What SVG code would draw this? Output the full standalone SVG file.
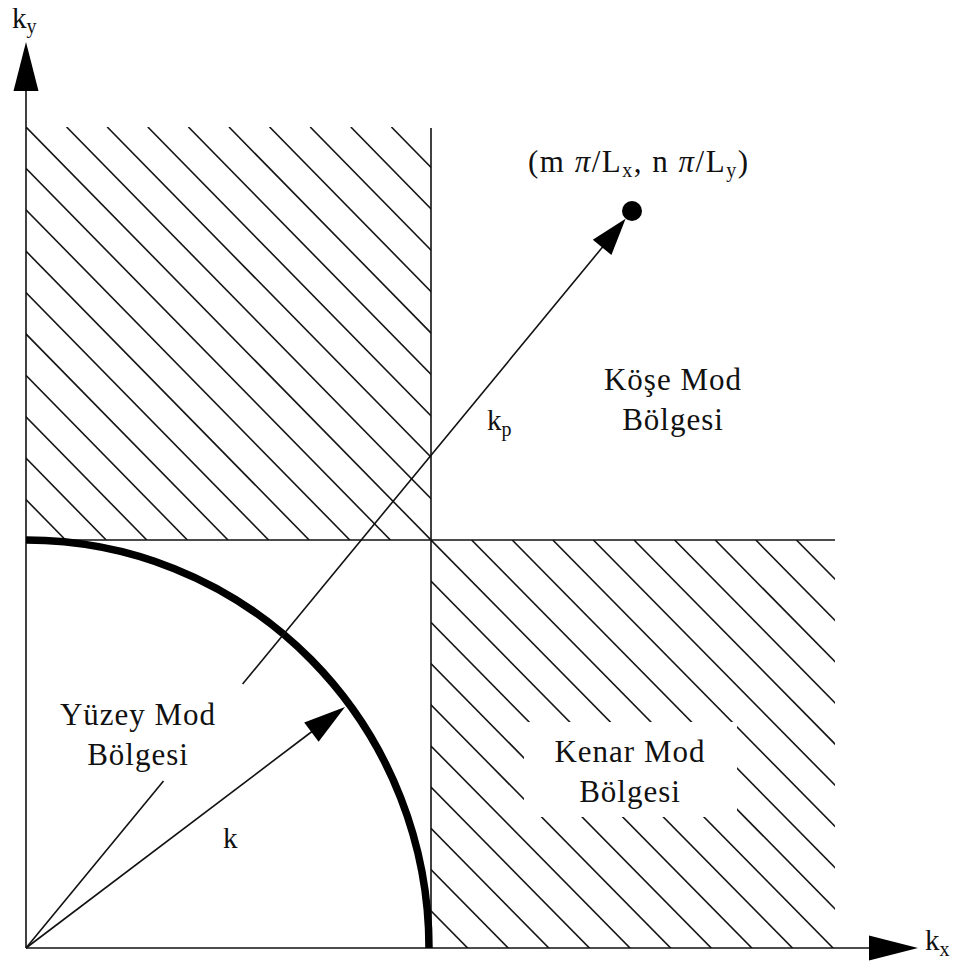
<svg xmlns="http://www.w3.org/2000/svg" width="958" height="965" viewBox="0 0 958 965" font-family="'Liberation Serif', 'Times New Roman', 'DejaVu Serif', serif">
<style>
  .ln{stroke:#111;stroke-width:1.6;fill:none;stroke-linecap:butt}
  .hatch line{stroke:#161616;stroke-width:1.6}
  .head{fill:#000;stroke:none}
  .arc{stroke:#000;stroke-width:7.5;fill:none}
  text{fill:#111}
  .lbl{font-size:31px;letter-spacing:1px;text-anchor:middle}
  .sym{font-size:29px}
  .sub{font-size:20px}
</style>
<defs>
  <clipPath id="clipTL"><rect x="26" y="127" width="405" height="413"/></clipPath>
  <clipPath id="clipBR"><path clip-rule="evenodd" d="M431 540H835V948H431Z M524 722V817H737V722Z"/></clipPath>
</defs>
<rect width="958" height="965" fill="#fff"/>

<g id="hatch-top-left" class="hatch" clip-path="url(#clipTL)">
  <line x1="-339.4" y1="127" x2="65.6" y2="540"/>
  <line x1="-298.8" y1="127" x2="106.2" y2="540"/>
  <line x1="-258.2" y1="127" x2="146.8" y2="540"/>
  <line x1="-217.6" y1="127" x2="187.4" y2="540"/>
  <line x1="-177" y1="127" x2="228" y2="540"/>
  <line x1="-136.4" y1="127" x2="268.6" y2="540"/>
  <line x1="-95.8" y1="127" x2="309.2" y2="540"/>
  <line x1="-55.2" y1="127" x2="349.8" y2="540"/>
  <line x1="-14.6" y1="127" x2="390.4" y2="540"/>
  <line x1="26" y1="127" x2="431" y2="540"/>
  <line x1="66.6" y1="127" x2="471.6" y2="540"/>
  <line x1="107.2" y1="127" x2="512.2" y2="540"/>
  <line x1="147.8" y1="127" x2="552.8" y2="540"/>
  <line x1="188.4" y1="127" x2="593.4" y2="540"/>
  <line x1="229" y1="127" x2="634" y2="540"/>
  <line x1="269.6" y1="127" x2="674.6" y2="540"/>
  <line x1="310.2" y1="127" x2="715.2" y2="540"/>
  <line x1="350.8" y1="127" x2="755.8" y2="540"/>
  <line x1="391.4" y1="127" x2="796.4" y2="540"/>
</g>

<g id="hatch-bottom-right" class="hatch" clip-path="url(#clipBR)">
  <line x1="65.6" y1="540" x2="468.6" y2="949"/>
  <line x1="106.2" y1="540" x2="509.2" y2="949"/>
  <line x1="146.8" y1="540" x2="549.8" y2="949"/>
  <line x1="187.4" y1="540" x2="590.4" y2="949"/>
  <line x1="228" y1="540" x2="631" y2="949"/>
  <line x1="268.6" y1="540" x2="671.6" y2="949"/>
  <line x1="309.2" y1="540" x2="712.2" y2="949"/>
  <line x1="349.8" y1="540" x2="752.8" y2="949"/>
  <line x1="390.4" y1="540" x2="793.4" y2="949"/>
  <line x1="431" y1="540" x2="834" y2="949"/>
  <line x1="471.6" y1="540" x2="874.6" y2="949"/>
  <line x1="512.2" y1="540" x2="915.2" y2="949"/>
  <line x1="552.8" y1="540" x2="955.8" y2="949"/>
  <line x1="593.4" y1="540" x2="996.4" y2="949"/>
  <line x1="634" y1="540" x2="1037" y2="949"/>
  <line x1="674.6" y1="540" x2="1077.6" y2="949"/>
  <line x1="715.2" y1="540" x2="1118.2" y2="949"/>
  <line x1="755.8" y1="540" x2="1158.8" y2="949"/>
  <line x1="796.4" y1="540" x2="1199.4" y2="949"/>
</g>

<g id="boundaries">
  <line class="ln" x1="431" y1="128" x2="431" y2="948"/>
  <line class="ln" x1="26" y1="540" x2="835" y2="540"/>
</g>

<g id="axes">
  <line class="ln" x1="26" y1="948" x2="26" y2="90"/>
  <polygon class="head" points="26,42 13.5,91 38.5,91"/>
  <line class="ln" x1="26" y1="948" x2="870" y2="948"/>
  <polygon class="head" points="918,948 869,935.5 869,960.5"/>
</g>

<g id="circle-k">
  <path class="arc" d="M26 540 A403 408 0 0 1 429 948"/>
</g>

<g id="connectors">
  <line class="ln" x1="26" y1="948" x2="163.5" y2="781"/>
  <line class="ln" x1="242.6" y1="684" x2="603" y2="246.5"/>
  <polygon class="head" points="625.6,218.7 611.4,254.9 592.8,239.7"/>
  <line class="ln" x1="26" y1="948" x2="312" y2="731.5"/>
  <polygon class="head" points="345,707 318.6,741.8 304.2,722.6"/>
</g>

<g id="point-mn">
  <circle cx="632" cy="211" r="10" fill="#000"/>
  <text x="528" y="172" font-family="'Liberation Serif', serif" font-size="31" letter-spacing="1.5">(m <tspan font-style="italic">π</tspan>/L<tspan class="sub" dy="5">x</tspan><tspan dy="-5">, n </tspan><tspan font-style="italic">π</tspan>/L<tspan class="sub" dy="5">y</tspan><tspan dy="-5">)</tspan></text>
</g>

<g id="label-ky"><text class="sym" font-family="'Liberation Serif', serif" x="12" y="28">k<tspan class="sub" dy="5">y</tspan></text></g>
<g id="label-kx"><text class="sym" font-family="'Liberation Serif', serif" x="925" y="950">k<tspan class="sub" dy="6">x</tspan></text></g>
<g id="label-kp"><text class="sym" font-family="'Liberation Serif', serif" x="487" y="430">k<tspan class="sub" dy="6">p</tspan></text></g>
<g id="label-k"><text class="sym" font-family="'Liberation Serif', serif" x="223" y="848">k</text></g>

<g id="region-kose" font-family="'Liberation Serif', serif">
  <text class="lbl" x="673" y="390">Köşe Mod</text>
  <text class="lbl" x="673" y="430">Bölgesi</text>
</g>
<g id="region-yuzey" font-family="'Liberation Serif', serif">
  <text class="lbl" x="138" y="725">Yüzey Mod</text>
  <text class="lbl" x="138" y="765">Bölgesi</text>
</g>
<g id="region-kenar" font-family="'Liberation Serif', serif">
  <text class="lbl" x="630" y="762">Kenar Mod</text>
  <text class="lbl" x="630" y="802">Bölgesi</text>
</g>
</svg>
